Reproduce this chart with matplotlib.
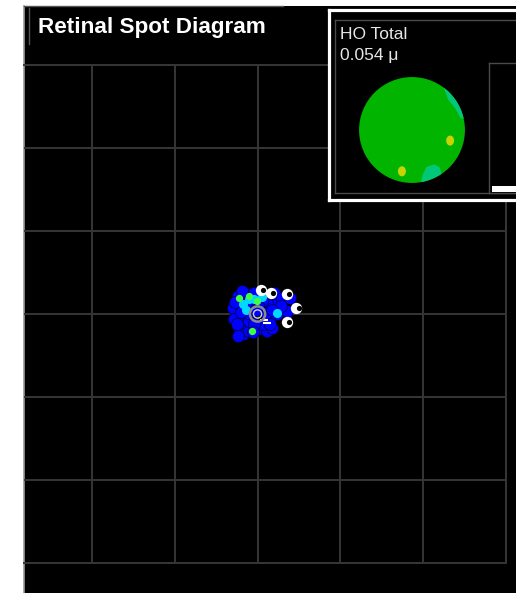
import numpy as np
import matplotlib
matplotlib.use('Agg')
import matplotlib.pyplot as plt
from matplotlib.patches import Circle, Polygon, Ellipse
from matplotlib.lines import Line2D

plt.rcParams['font.family'] = ['Liberation Sans', 'DejaVu Sans']

# spot diagram: ray hits relative to the chief ray, one grid cell = 1 unit
blue_x = [-0.24, -0.30, -0.28, -0.22, -0.18, -0.24, -0.10, 0.00, 0.11, 0.18,
          0.24, 0.23, 0.20, 0.29, 0.39, 0.35, -0.10, -0.04, -0.13, -0.18,
          -0.10, 0.06, 0.14, 0.11, 0.05, -0.04, -0.19, -0.12, 0.10, 0.00,
          -0.05, 0.15, 0.28, -0.25, -0.02, 0.17, -0.20, -0.27]
blue_y = [0.22, 0.07, -0.06, -0.17, -0.24, -0.27, -0.20, -0.18, -0.20, -0.17,
          0.00, 0.13, 0.25, 0.19, 0.19, 0.04, 0.24, 0.25, 0.12, -0.05,
          -0.08, -0.12, -0.05, 0.12, 0.16, -0.12, 0.28, 0.01, 0.01, 0.10,
          -0.22, -0.12, 0.10, -0.12, 0.05, 0.05, 0.03, 0.15]
cyan_x = [-0.10, -0.18, -0.04, 0.24, 0.05, -0.14]
cyan_y = [0.18, 0.12, 0.18, 0.01, 0.20, 0.05]
green_x = [-0.10, -0.22, -0.07, -0.01]
green_y = [0.22, 0.19, -0.20, 0.16]
white_x = [0.04, 0.16, 0.35, 0.47, 0.36]
white_y = [0.29, 0.25, 0.24, 0.07, -0.10]
dash_x = [0.11, 0.08]
dash_y = [-0.11, -0.07]

# wavefront map inset
ho_total = 0.054          # microns
bar_max = 1.2             # full scale of the side bar, microns
edge_patch = [(0.60, 0.80), (0.68, 0.58), (0.82, 0.40), (0.92, 0.22),
              (1.2, 0.20), (1.2, 1.0)]
bottom_patch = [(0.15, -1.1), (0.20, -0.85), (0.27, -0.70), (0.42, -0.65),
                (0.52, -0.70), (0.58, -0.90), (0.60, -1.1)]
yellow_x = [0.72, -0.19]
yellow_y = [-0.20, -0.78]

W, H = 516, 593
fig = plt.figure(figsize=(W / 100, H / 100), dpi=100, facecolor='white')


def px_axes(x0, y0, x1, y1, **kw):
    return fig.add_axes([x0 / W, 1 - y1 / H, (x1 - x0) / W, (y1 - y0) / H], **kw)


def bare(ax):
    ax.set_xticks([])
    ax.set_yticks([])


# black background panel
bg = px_axes(24, 6, 530, 593, facecolor='black')
bare(bg)
for s in ['top', 'right', 'bottom']:
    bg.spines[s].set_visible(False)
bg.spines['left'].set_color('#9a9a9a')
bg.spines['left'].set_linewidth(1.2)

# title and its box edges
fig.add_artist(Line2D([24 / W, 283 / W], [1 - 5.5 / H, 1 - 5.5 / H],
                      color='#555555', lw=1.0))
fig.add_artist(Line2D([29 / W, 29 / W], [1 - 8 / H, 1 - 44 / H],
                      color='#555555', lw=1.0))
fig.text(38 / W, 1 - 33 / H, 'Retinal Spot Diagram', color='white',
         fontsize=16.2, fontweight='bold', va='baseline', ha='left')

# grid
gcol = '#363636'
ax = px_axes(24, 65, 506, 563, facecolor='none')
ax.set_xlim(-2.82, 3)
ax.set_ylim(-3, 3)
ax.set_xticks(np.arange(-2, 4))
ax.set_yticks(np.arange(-3, 4))
ax.tick_params(length=0, labelbottom=False, labelleft=False)
ax.grid(True, color=gcol, lw=1.4)
ax.spines['left'].set_visible(False)
for s in ['top', 'right', 'bottom']:
    ax.spines[s].set_color(gcol)
    ax.spines[s].set_linewidth(1.4)
ax.set_axisbelow(True)

ms = 78
ax.plot(white_x[2:], white_y[2:], color='#2030ff', lw=1.0, zorder=2)
ax.scatter(blue_x, blue_y, s=ms, color='#0000ff', edgecolor='black', lw=0.4,
           zorder=3)
ax.scatter(cyan_x, cyan_y, s=ms * 0.55, color='#00d8ff', lw=0, zorder=4)
ax.scatter(green_x, green_y, s=ms * 0.35, color='#40ff40', lw=0, zorder=4)
ax.scatter(white_x, white_y, s=ms * 0.85, color='white', lw=0, zorder=5)
ax.scatter(np.array(white_x) + 0.025, white_y, s=14, color='black', lw=0,
           zorder=5)
ax.scatter(dash_x, dash_y, s=30, marker='_', color='white', lw=1.5, zorder=5)
ax.scatter([0], [0], s=120, facecolor='none', edgecolor='#8a8a8a', lw=1.8, zorder=6)
ax.scatter([0], [0], s=35, facecolor='none', edgecolor='#cfcfcf', lw=1.0, zorder=6)

# inset frame
ins = px_axes(329, 10, 540, 200, facecolor='black')
bare(ins)
for s in ins.spines.values():
    s.set_color('white')
    s.set_linewidth(2.3)
inner = px_axes(335, 20, 540, 193, facecolor='none')
bare(inner)
for s in inner.spines.values():
    s.set_color('#4a4a4a')
    s.set_linewidth(1.0)
fig.text(340 / W, 1 - 39 / H, 'HO Total', color='#e6e6e6', fontsize=12.5,
         va='baseline')
fig.text(340 / W, 1 - 60 / H, '%.3f \u03bc' % ho_total, color='#e6e6e6',
         fontsize=12.5, va='baseline')

# side bar
cb = px_axes(489, 63, 540, 193, facecolor='black')
bare(cb)
for s in cb.spines.values():
    s.set_color('#4a4a4a')
    s.set_linewidth(1.0)
cb.set_xlim(0, 1)
cb.set_ylim(0, bar_max)
cb.bar(0.3, ho_total, width=0.5, bottom=0.01, color='white')

# pupil map
pm = px_axes(358, 76, 466, 184)
pm.set_xlim(-1.02, 1.02)
pm.set_ylim(-1.02, 1.02)
pm.set_axis_off()
pupil = Circle((0, 0), 1, color='#00b400', lw=0)
pm.add_patch(pupil)
for pts in [edge_patch, bottom_patch]:
    p = Polygon(pts, closed=True, color='#00c878', lw=0)
    pm.add_patch(p)
    p.set_clip_path(pupil)
for x, y in zip(yellow_x, yellow_y):
    pm.add_patch(Ellipse((x, y), 0.15, 0.19, color='#c8d400', lw=0))

fig.savefig('out.png', dpi=100, facecolor='white')
